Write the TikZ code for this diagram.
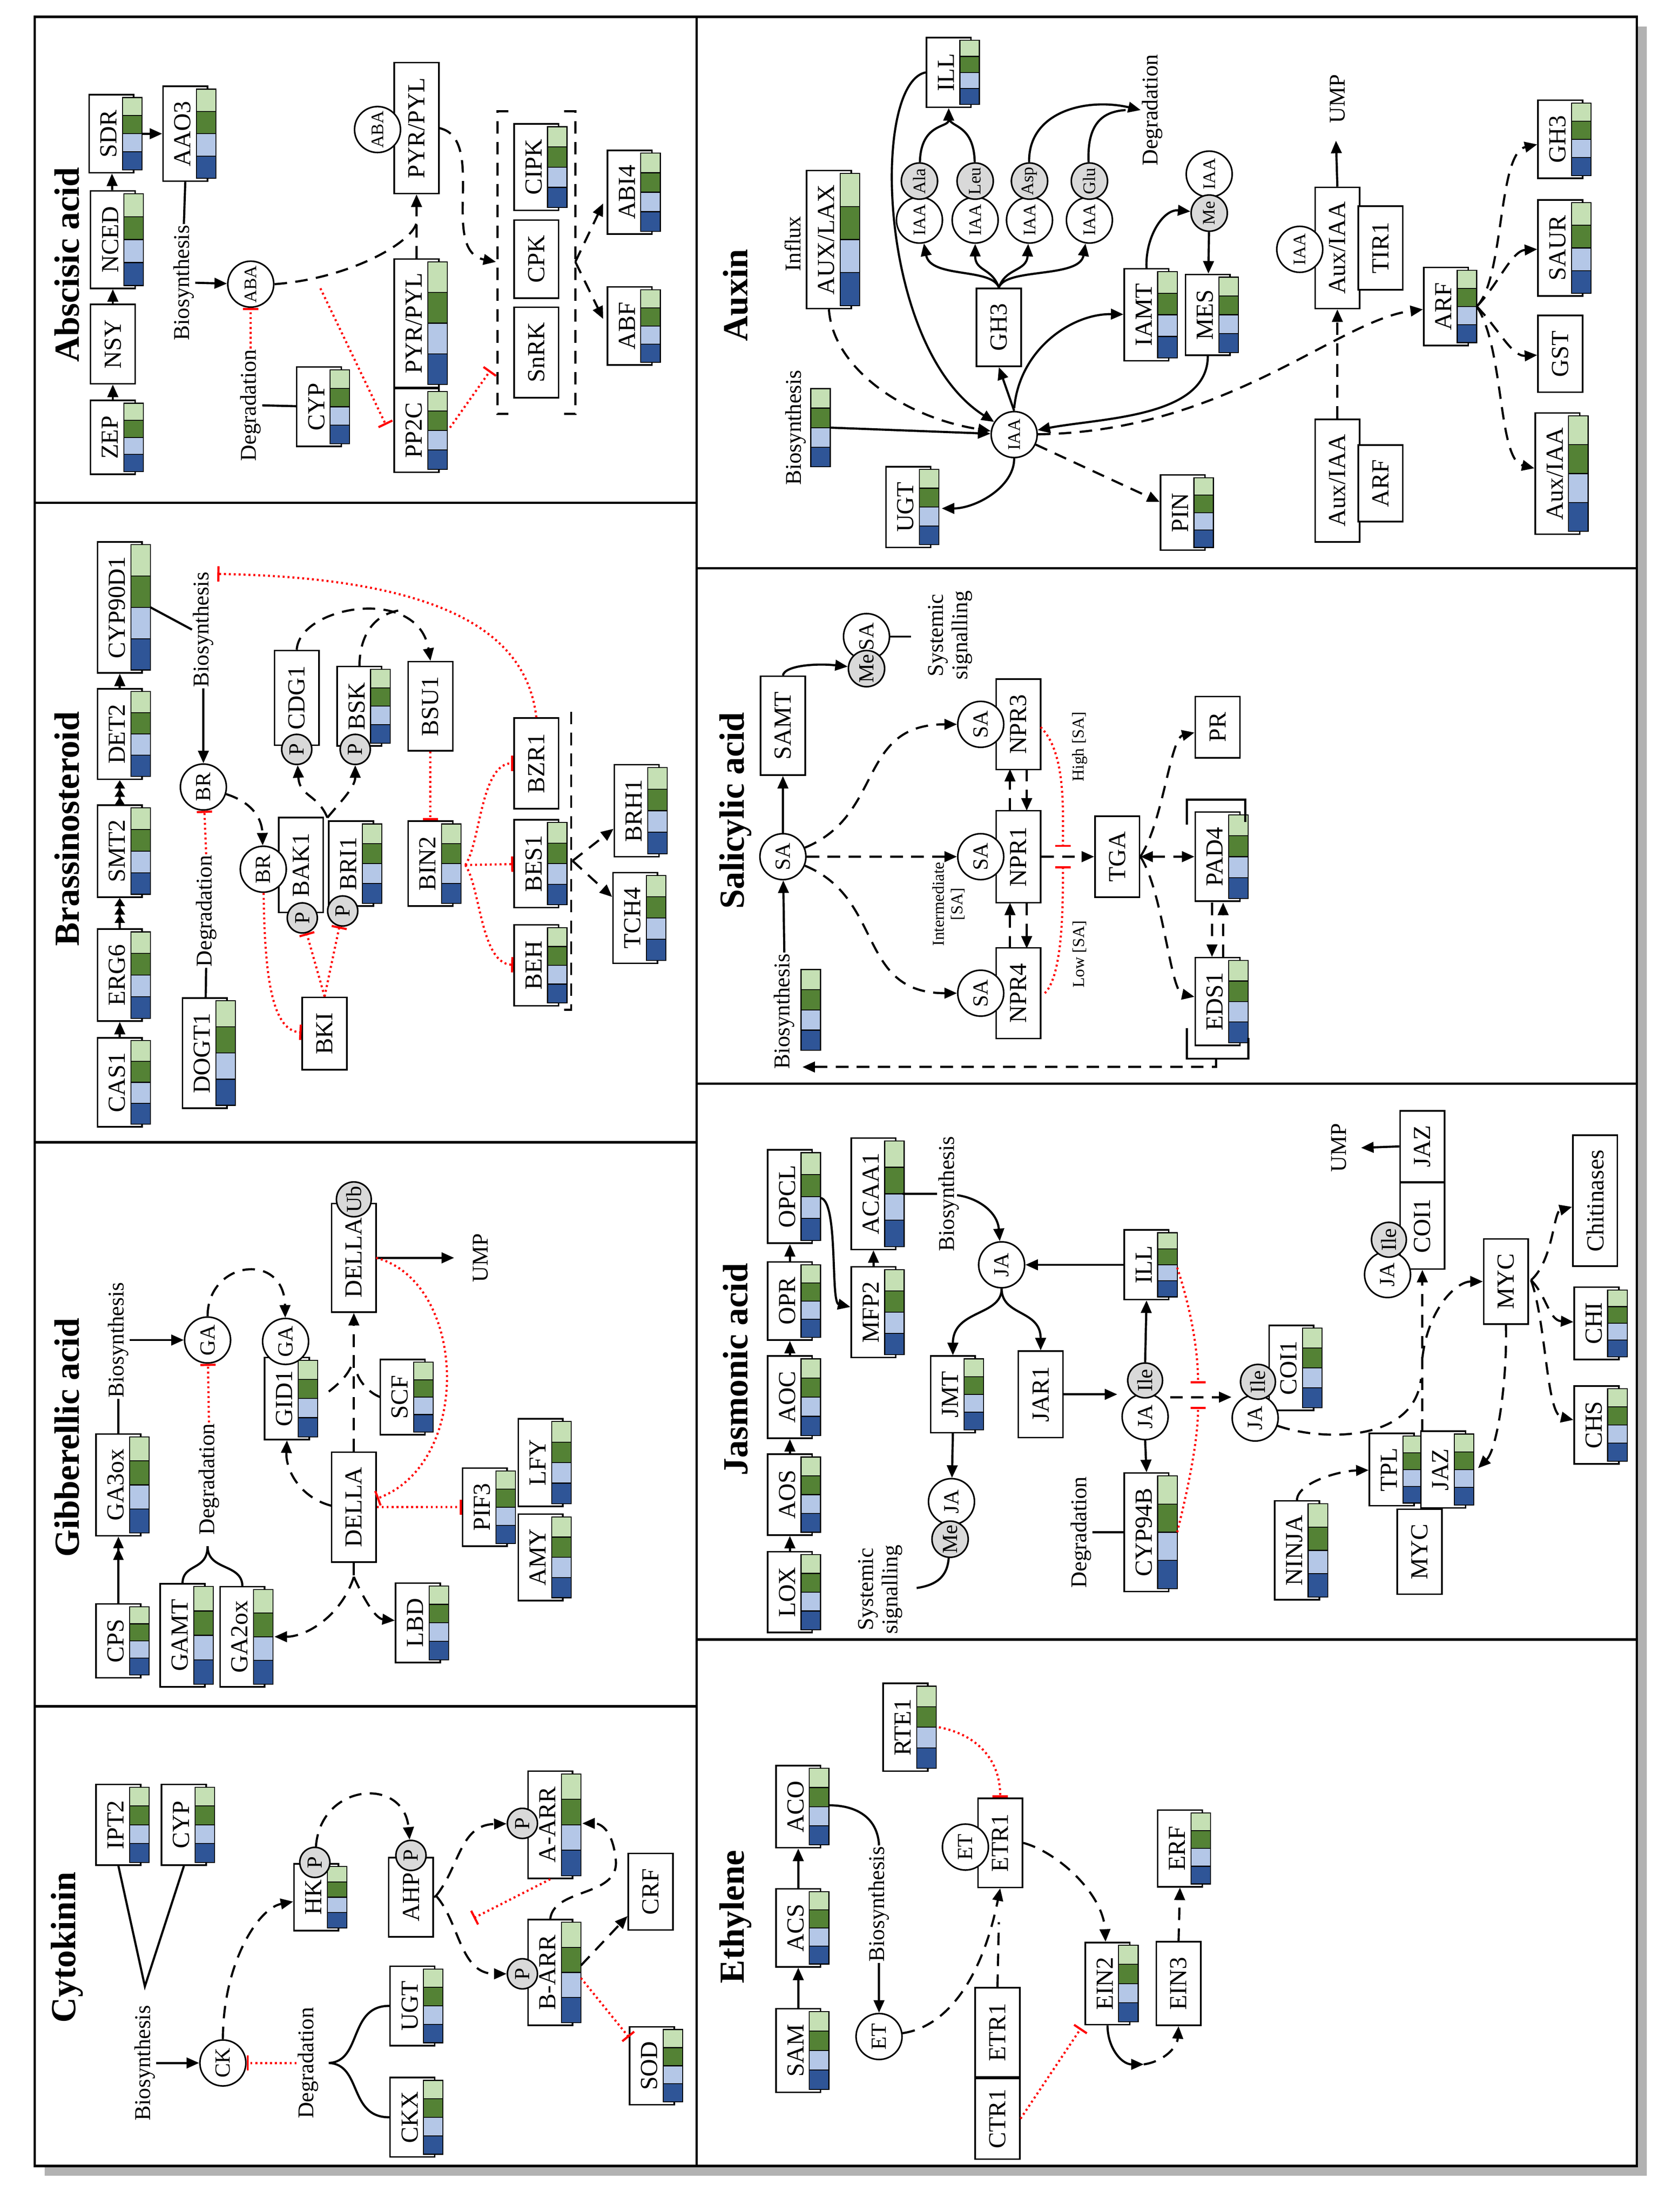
\documentclass[tikz,border=0pt]{standalone}
\usepackage{fontspec}
\setmainfont{Liberation Serif}
\usetikzlibrary{arrows.meta,shapes.geometric}
\definecolor{lg}{HTML}{C5E0B4}
\definecolor{dg}{HTML}{548235}
\definecolor{lb}{HTML}{B4C7E7}
\definecolor{db}{HTML}{2F5597}
\newcommand\Fgene{\fontsize{25}{27}\selectfont}
\newcommand\Flab{\fontsize{23}{25}\selectfont}
\newcommand\Ftitle{\fontsize{36}{38}\selectfont\bfseries}
\newcommand\Fsmall{\fontsize{17}{19}\selectfont}
\newcommand\Fcirc{\fontsize{22}{24}\selectfont}
\newcommand\Fcs{\fontsize{18}{20}\selectfont}
\tikzset{
 box/.style={draw, line width=1.6pt, fill=white, rotate=90, inner sep=0pt, minimum height=1.6cm, font=\Fgene},
 cir/.style={draw, circle, line width=1.6pt, fill=white, rotate=90, inner sep=0pt, minimum size=1.65cm, font=\Fcirc},
 pc/.style={cir, fill=gray!30, minimum size=1.08cm},
 lab/.style={rotate=90, font=\Flab, inner sep=1pt},
 ttl/.style={rotate=90, font=\Ftitle},
 ln/.style={line width=2.2pt},
 ar/.style={line width=2.2pt, -{Triangle[length=0.45cm,width=0.38cm]}},
 ar2/.style={line width=2.2pt, -{Triangle[length=0.42cm,width=0.36cm] Triangle[length=0.42cm,width=0.36cm]}},
 ar3/.style={line width=2.2pt, -{Triangle[length=0.3cm,width=0.36cm] Triangle[length=0.3cm,width=0.36cm] Triangle[length=0.3cm,width=0.36cm]}},
 dl/.style={line width=2.2pt, dash pattern=on 0.45cm off 0.3cm},
 da/.style={ar, dash pattern=on 0.45cm off 0.3cm},
 dd/.style={da, {Triangle[length=0.45cm,width=0.38cm]}-{Triangle[length=0.45cm,width=0.38cm]}},
 inh/.style={red, line width=2.2pt, dash pattern=on 2pt off 3pt, -{Bar[width=0.55cm]}},
}
\newcommand\hmap[3]{\foreach \k/\cc in {0/lg,1/dg,2/lb,3/db}{\filldraw[fill=\cc, draw=black, line width=1pt] ({#1+24},{#2-#3/2+2+\k*(#3-4)/4}) rectangle ({#1+38},{#2-#3/2+2+(\k+1)*(#3-4)/4});}}
\newcommand\gene[5]{\node[box, minimum width={#4*0.05cm}] (#1) at ({#2+16},#3) {\raisebox{0.2cm}{#5}};\hmap{#2}{#3}{#4}}
\newcommand\pbox[5]{\node[box, minimum width={#4*0.05cm}] (#1) at (#2,#3) {#5};}
\begin{document}
\begin{tikzpicture}[x=0.05cm,y=-0.05cm]
\useasboundingbox (0,0) rectangle (1200,1588);
\fill[white] (0,0) rectangle (1200,1588);
\fill[gray!60] (32,19) rectangle (1182,1562);
\draw[line width=2.5pt, fill=white] (25,12) rectangle (1175,1555);
\draw[line width=2.5pt] (500,12) -- (500,1555) (25,361) -- (500,361) (25,820) -- (500,820) (25,1225) -- (500,1225)
 (500,408) -- (1175,408) (500,778) -- (1175,778) (500,1177) -- (1175,1177);

% ================= Abscisic acid
\node[ttl] at (48,190) {Abscisic acid};
\gene{zep}{65}{314}{53}{ZEP}
\pbox{nsy}{81}{247}{57}{NSY}
\gene{nced}{65}{172}{70}{NCED}
\gene{sdr}{64}{96}{56}{SDR}
\gene{aao3}{117}{96}{68}{AAO3}
\draw[ar] (zep) -- (nsy);
\draw[ar] (nsy) -- (nced);
\draw[ar] (nced) -- (sdr);
\draw[ar] (102,96) -- (aao3);
\node[lab] (bio1) at (132,203) {Biosynthesis};
\draw[ln] (aao3.west) -- (bio1.east);
\node[cir,font=\Fcs] (aba) at (180,204) {ABA};
\draw[ar] (bio1.south) -- (aba);
\node[lab] (deg1) at (180,291) {Degradation};
\draw[inh] (deg1.east) -- (aba);
\gene{cyp1}{213}{292}{57}{CYP}
\draw[ln] (deg1.south) -- (cyp1);
\gene{pyr2}{283}{232}{92}{PYR/PYL}
\gene{pp2c}{283}{309}{60}{PP2C}
\draw[inh] (230,207) -- (277,305);
\pbox{pyr1}{299}{92}{94}{PYR/PYL}
\node[cir,font=\Fcs] (aba2) at (271,93) {ABA};
\draw[da] (pyr2.east) -- (pyr1.west);
\draw[dl] (aba.south) .. controls (250,200) and (295,175) .. (299,160);
\draw[da] (pyr1.south) .. controls (350,100) and (315,180) .. (356,188);
\draw[dl] (365,80) -- (357,80) -- (357,297) -- (365,297);
\draw[dl] (405,80) -- (413,80) -- (413,297) -- (405,297);
\gene{cipk}{369}{120}{62}{CIPK}
\pbox{cpk}{385}{186}{56}{CPK}
\pbox{snrk}{385}{253}{65}{SnRK}
\draw[inh] (323,307) -- (352,266);
\gene{abi4}{436}{138}{60}{ABI4}
\gene{abf}{436}{234}{56}{ABF}
\coordinate (j1) at (413,188);
\draw[da] (j1) -- (433,146);
\draw[da] (j1) -- (433,229);

% ================= Brassinosteroid
\node[ttl] at (48,595) {Brassinosteroid};
\gene{cas1}{70}{777}{64}{CAS1}
\gene{erg6}{70}{700}{66}{ERG6}
\gene{smt2}{70}{611}{66}{SMT2}
\gene{det2}{70}{527}{65}{DET2}
\gene{cyp90}{70}{436}{94}{CYP90D1}
\draw[ar] (cas1) -- (erg6);
\draw[ar3] (erg6) -- (smt2);
\draw[ar3] (smt2) -- (det2);
\draw[ar] (det2) -- (cyp90);
\node[lab] (bio2) at (146,452) {Biosynthesis};
\draw[ln] (108,436) -- (bio2.north);
\node[cir] (br1) at (146,565) {BR};
\draw[ar] (bio2.west) -- (br1);
\node[lab] (deg2) at (148,654) {Degradation};
\draw[inh] (deg2.east) -- (br1);
\gene{dogt}{131}{756}{79}{DOGT1}
\draw[ln] (deg2.west) -- (dogt);
\pbox{bak1}{216}{621}{68}{BAK1}
\node[cir] (br2) at (189,624) {BR};
\node[pc] (pbak) at (217,659) {P};
\gene{bri1}{236}{620}{61}{BRI1}
\node[pc] (pbri) at (246,654) {P};
\draw[da] (br1) .. controls (178,575) and (188,585) .. (br2);
\pbox{cdg1}{213}{501}{68}{CDG1}
\node[pc] (pcdg) at (213,538) {P};
\gene{bsk}{242}{507}{57}{BSK}
\node[pc] (pbsk) at (255,538) {P};
\coordinate (j2) at (235,587);
\draw[da] (j2) .. controls (228,570) and (215,572) .. (pcdg);
\draw[da] (j2) .. controls (245,575) and (255,565) .. (pbsk);
\pbox{bsu1}{309}{507}{64}{BSU1}
\draw[da] (cdg1.east) .. controls (215,435) and (300,420) .. (bsu1.east);
\draw[dl] (258,479) .. controls (258,452) and (272,440) .. (288,438);
\gene{bin2}{293}{620}{61}{BIN2}
\draw[inh] (bsu1) -- (bin2);
\pbox{bzr1}{385}{548}{65}{BZR1}
\gene{bes1}{369}{620}{63}{BES1}
\gene{beh}{369}{693}{58}{BEH}
\coordinate (j3) at (334,621);
\draw[inh] (j3) .. controls (345,605) and (345,548) .. (bzr1);
\draw[inh] (j3) -- (bes1);
\draw[inh] (j3) .. controls (345,637) and (345,692) .. (beh);
\draw[inh] (bzr1.east) .. controls (378,455) and (320,415) .. (156,412);
\draw[dl] (410,511) -- (410,725) -- (403,725);
\gene{brh1}{441}{582}{66}{BRH1}
\gene{tch4}{440}{659}{65}{TCH4}
\draw[da] (411,618) -- (brh1);
\draw[da] (411,618) -- (tch4);
\pbox{bki}{233}{742}{52}{BKI}
\draw[inh] (bki.east) -- (pbak);
\draw[inh] (bki.east) -- (pbri);
\draw[inh] (br2) .. controls (190,700) and (195,740) .. (bki);

% ================= Gibberellic acid
\node[ttl] at (48,1032) {Gibberellic acid};
\gene{cps}{69}{1178}{53}{CPS}
\gene{ga3ox}{69}{1066}{73}{GA3ox}
\draw[ar2] (cps) -- (ga3ox);
\node[lab] (bio3) at (85,962) {Biosynthesis};
\draw[ln] (ga3ox.east) -- (bio3.west);
\node[cir] (ga1) at (149,962) {GA};
\draw[ar] (bio3.south) -- (ga1);
\node[lab] (deg3) at (150,1062) {Degradation};
\draw[inh] (deg3.east) -- (ga1);
\gene{gamt}{115}{1174}{74}{GAMT}
\gene{ga2ox}{158}{1175}{72}{GA2ox}
\draw[ln] (131,1137) .. controls (131,1122) and (149,1128) .. (149,1110);
\draw[ln] (174,1139) .. controls (174,1122) and (149,1128) .. (149,1110);
\gene{gid1}{190}{1004}{59}{GID1}
\node[cir] (ga2) at (205,963) {GA};
\draw[da] (ga1.east) .. controls (149,905) and (204,898) .. (ga2);
\pbox{della1}{254}{903}{78}{DELLA}
\node[pc, minimum size=1.25cm] (ub) at (254,861) {Ub};
\draw[ar] (della1.south) -- (326,903);
\node[lab] at (345,903) {UMP};
\pbox{della2}{254}{1082}{79}{DELLA}
\draw[da] (della2.east) -- (della1.west);
\gene{scf}{273}{1003}{54}{SCF}
\draw[dl] (236,999) .. controls (245,992) and (252,985) .. (254,975);
\draw[dl] (273,1003) .. controls (265,1000) and (258,992) .. (256,985);
\draw[da] (238,1081) .. controls (215,1075) and (205,1055) .. (gid1.west);
\draw[inh] (270,903) .. controls (335,920) and (340,1050) .. (della2);
\gene{pif3}{332}{1082}{56}{PIF3}
\draw[inh] (della2) -- (pif3);
\gene{lfy}{372}{1050}{63}{LFY}
\gene{amy}{372}{1118}{62}{AMY}
\gene{lbd}{284}{1165}{57}{LBD}
\coordinate (j4) at (254,1132);
\draw[dl] (della2.west) -- (j4);
\draw[da] (j4) .. controls (245,1160) and (220,1175) .. (197,1175);
\draw[da] (j4) .. controls (262,1150) and (270,1162) .. (lbd);

% ================= Cytokinin
\node[ttl] at (48,1398) {Cytokinin};
\gene{ipt2}{69}{1310}{58}{IPT2}
\gene{cyp2}{116}{1310}{58}{CYP}
\coordinate (v) at (104,1426);
\draw[ln] (ipt2.west) -- (v) -- (cyp2.west);
\node[lab] (bio4) at (104,1481) {Biosynthesis};
\node[cir] (ck) at (160,1481) {CK};
\draw[ar] (bio4.south) -- (ck);
\node[lab] (deg4) at (221,1481) {Degradation};
\draw[inh] (deg4.north) -- (ck);
\gene{ugt1}{280}{1440}{57}{UGT}
\gene{ckx}{280}{1520}{57}{CKX}
\draw[ln] (ugt1.north) .. controls (250,1440) and (260,1480) .. (236,1481) .. controls (260,1482) and (250,1520) .. (ckx.north);
\gene{hk}{211}{1362}{48}{HK}
\node[pc] (phk) at (226,1337) {P};
\draw[da] (ck.east) .. controls (160,1410) and (185,1370) .. (hk);
\pbox{ahp}{295}{1362}{57}{AHP}
\node[pc] (pahp) at (295,1332) {P};
\draw[da] (phk) .. controls (230,1280) and (290,1275) .. (pahp);
\gene{aarr}{379}{1310}{77}{A-ARR}
\node[pc] (paa) at (375,1309) {P};
\gene{barr}{379}{1416}{76}{B-ARR}
\node[pc] (pba) at (375,1417) {P};
\coordinate (j5) at (313,1361);
\draw[dl] (ahp.south) -- (j5);
\draw[da] (j5) .. controls (330,1340) and (330,1310) .. (paa);
\draw[da] (j5) .. controls (330,1380) and (330,1417) .. (pba);
\draw[inh] (aarr.west) -- (340,1377);
\draw[da] (barr.east) .. controls (398,1355) and (445,1362) .. (442,1335) .. controls (440,1315) and (432,1309) .. (418,1309);
\pbox{crf}{467}{1358}{55}{CRF}
\draw[da] (417,1411) -- (crf);
\gene{sod}{452}{1483}{56}{SOD}
\draw[inh] (417,1420) -- (sod);

% ================= Auxin
\node[ttl] at (528,212) {Auxin};
\gene{auxlax}{579}{172}{99}{AUX/LAX}
\node[lab] at (569,175) {Influx};
\node[cir,font=\Fcs] (iaa) at (728,312) {IAA};
\draw[da] (auxlax.west) .. controls (598,265) and (650,300) .. (iaa);
\node[lab] at (571,307) {Biosynthesis};
\hmap{558}{307}{60}
\draw[ar] (596,307) -- (iaa);
\gene{ugt2}{636}{364}{58}{UGT}
\draw[ar] (iaa.west) .. controls (728,350) and (700,365) .. (676,365);
\gene{pin}{833}{368}{54}{PIN}
\draw[da] (iaa) -- (pin);
\pbox{gh3a}{717}{235}{56}{GH3}
\draw[ar] (iaa.east) -- (gh3a.west);
\gene{iamt}{807}{226}{66}{IAMT}
\gene{mes}{851}{226}{58}{MES}
\draw[ar] (728,293) .. controls (732,250) and (770,225) .. (iamt);
\foreach \xx/\aa/\nn in {660/Ala/1,700/Leu/2,739/Asp/3,782/Glu/4}{
 \node[cir,font=\Fcs] (c\nn) at (\xx,158) {IAA};
 \node[pc,minimum size=1.3cm,font=\Fcs] (a\nn) at (\xx,130) {\aa};}
\draw[ar] (gh3a.east) .. controls (712,192) and (668,200) .. (c1);
\draw[ar] (gh3a.east) .. controls (712,192) and (700,195) .. (c2);
\draw[ar] (gh3a.east) .. controls (722,192) and (737,195) .. (c3);
\draw[ar] (gh3a.east) .. controls (722,192) and (775,200) .. (c4);
\gene{ill}{665}{52}{50}{ILL}
\draw[ar] (a1) .. controls (661,88) and (681,92) .. (ill.west);
\draw[ln] (a2) .. controls (699,88) and (681,92) .. (681,84);
\node[lab] (deg5) at (827,79) {Degradation};
\draw[ar] (a3) .. controls (738,80) and (780,70) .. (deg5.north);
\draw[ln] (a4) .. controls (780,85) and (795,80) .. (808,79);
\draw[ar] (ill.north) .. controls (625,60) and (630,250) .. (iaa);
\node[cir,font=\Fcs] (meiaa) at (868,125) {IAA};
\node[pc,minimum size=1.3cm,font=\Fcs] (me) at (868,153) {Me};
\draw[ar] (iamt.east) .. controls (822,170) and (835,150) .. (me);
\draw[ar] (me) -- (mes);
\draw[ar] (mes.west) .. controls (867,300) and (790,300) .. (iaa);
\pbox{auxiaa1}{960}{178}{87}{Aux/IAA}
\pbox{tir1}{991}{178}{60}{TIR1}
\node[cir,font=\Fcs] (iaa3) at (933,179) {IAA};
\draw[ar] (auxiaa1.east) -- (959,101);
\node[lab] at (960,71) {UMP};
\pbox{auxiaa2}{960}{345}{88}{Aux/IAA}
\pbox{arf1}{991}{347}{55}{ARF}
\draw[da] (auxiaa2.east) -- (auxiaa1.west);
\gene{arf2}{1022}{220}{56}{ARF}
\draw[da] (iaa) .. controls (880,310) and (960,230) .. (arf2);
\gene{gh3b}{1104}{100}{56}{GH3}
\gene{saur}{1104}{178}{69}{SAUR}
\pbox{gst}{1120}{254}{55}{GST}
\gene{auxiaa3}{1102}{340}{87}{Aux/IAA}
\coordinate (j6) at (1060,220);
\draw[da] (j6) .. controls (1080,200) and (1075,110) .. (gh3b);
\draw[da] (j6) .. controls (1075,205) and (1085,180) .. (saur);
\draw[da] (j6) .. controls (1075,235) and (1085,256) .. (gst);
\draw[da] (j6) .. controls (1080,250) and (1075,330) .. (auxiaa3);

% ================= Salicylic acid
\node[ttl] at (528,582) {Salicylic acid};
\pbox{samt}{562}{521}{71}{SAMT}
\node[cir] (sa0) at (562,615) {SA};
\draw[ar] (sa0) -- (samt);
\node[lab] (bio6) at (563,726) {Biosynthesis};
\hmap{551}{725}{62}
\draw[ar] (bio6.east) -- (sa0);
\node[cir] (sam) at (622,457) {SA};
\node[pc,minimum size=1.3cm] (me2) at (622,480) {Me};
\draw[ar] (samt.east) .. controls (563,478) and (585,476) .. (me2);
\draw[ln] (sam.south) -- (654,457);
\node[lab, align=center] at (682,456) {Systemic\\signalling};
\pbox{npr3}{731}{520}{65}{NPR3}
\node[cir] (sa3) at (704,520) {SA};
\pbox{npr1}{731}{615}{66}{NPR1}
\node[cir] (sa1) at (704,615) {SA};
\pbox{npr4}{731}{713}{65}{NPR4}
\node[cir] (sa4) at (704,713) {SA};
\draw[da] (sa0) .. controls (635,585) and (615,520) .. (sa3);
\draw[da] (sa0) -- (sa1);
\draw[da] (sa0) .. controls (635,645) and (615,713) .. (sa4);
\node[font=\Fsmall, rotate=90, align=center] at (681,649) {Intermediate\\{}[SA]};
\draw[da] (725,582) -- (725,552);
\draw[da] (737,552) -- (737,582);
\draw[da] (725,681) -- (725,648);
\draw[da] (737,648) -- (737,681);
\pbox{tga}{802}{615}{58}{TGA}
\draw[da] (npr1) -- (tga);
\draw[inh] (747,522) .. controls (765,540) and (763,580) .. (763,608);
\draw[inh] (750,713) .. controls (763,700) and (763,650) .. (763,622);
\node[font=\Fsmall, rotate=90] at (775,536) {High [SA]};
\node[font=\Fsmall, rotate=90] at (775,685) {Low [SA]};
\pbox{pr}{874}{522}{44}{PR}
\gene{pad4}{858}{615}{64}{PAD4}
\gene{eds1}{858}{719}{63}{EDS1}
\draw[da] (tga.south) .. controls (835,590) and (840,530) .. (pr);
\draw[dd] (tga) -- (pad4);
\draw[da] (tga.south) .. controls (835,640) and (840,712) .. (eds1);
\draw[ln] (852,592) -- (852,574) -- (894,574) -- (894,590);
\draw[ln] (852,738) -- (852,760) -- (896,760) -- (896,745);
\draw[da] (870,648) -- (870,687);
\draw[da] (878,687) -- (878,648);
\draw[da] (873,760) -- (873,766) -- (576,766);

% ================= Jasmonic acid
\node[ttl] at (528,983) {Jasmonic acid};
\gene{lox}{551}{1143}{58}{LOX}
\gene{aos}{551}{1073}{58}{AOS}
\gene{aoc}{551}{1003}{59}{AOC}
\gene{opr}{551}{934}{56}{OPR}
\gene{opcl}{551}{859}{67}{OPCL}
\draw[ar] (lox) -- (aos);
\draw[ar] (aos) -- (aoc);
\draw[ar] (aoc) -- (opr);
\draw[ar] (opr) -- (opcl);
\gene{mfp2}{611}{942}{65}{MFP2}
\gene{acaa1}{611}{857}{80}{ACAA1}
\draw[ar] (mfp2) -- (acaa1);
\draw[ar] (589,860) .. controls (602,862) and (596,935) .. (mfp2);
\node[lab] (bio7) at (681,857) {Biosynthesis};
\draw[ln] (648,857) -- (bio7.north);
\node[cir] (ja1) at (719,908) {JA};
\draw[ar] (687,858) .. controls (702,860) and (716,870) .. (ja1);
\gene{ill2}{807}{908}{50}{ILL}
\draw[ar] (ill2) -- (ja1);
\gene{jmt}{668}{1001}{55}{JMT}
\pbox{jar1}{747}{1001}{62}{JAR1}
\draw[ar] (ja1.west) .. controls (719,945) and (684,940) .. (jmt);
\draw[ar] (ja1.west) .. controls (719,945) and (747,940) .. (jar1);
\node[cir] (meja) at (683,1078) {JA};
\node[pc,minimum size=1.3cm] (me3) at (682,1105) {Me};
\draw[ar] (jmt.west) -- (meja);
\node[lab, align=center] at (632,1141) {Systemic\\signalling};
\draw[ln] (658,1140) .. controls (672,1138) and (680,1132) .. (me3);
\node[cir] (jaile1) at (822,1017) {JA};
\node[pc,minimum size=1.25cm] (ile1) at (822,991) {Ile};
\draw[ar] (jar1.south) -- (802,1001);
\draw[ar] (ile1.east) -- (ill2.west);
\node[lab] (deg7) at (776,1100) {Degradation};
\gene{cyp94}{807}{1100}{85}{CYP94B}
\draw[ar] (jaile1.west) -- (cyp94.east);
\draw[ln] (deg7.south) -- (cyp94);
\gene{coi1a}{911}{982}{61}{COI1}
\node[cir] (jaile2) at (901,1018) {JA};
\node[pc,minimum size=1.25cm] (ile2) at (903,992) {Ile};
\draw[da] (840,1003) -- (884,1003);
\draw[inh] (845,910) .. controls (855,940) and (860,970) .. (860,993);
\draw[inh] (845,1100) .. controls (855,1060) and (860,1030) .. (860,1010);
\pbox{coi1b}{1021}{880}{62}{COI1}
\pbox{jaz1}{1021}{823}{51}{JAZ}
\node[cir] (jaile3) at (996,915) {JA};
\node[pc,minimum size=1.25cm] (ile3) at (997,890) {Ile};
\draw[ar] (jaz1.north) -- (977,824);
\node[lab] at (961,824) {UMP};
\pbox{myc1}{1081}{920}{61}{MYC}
\gene{tpl}{983}{1055}{52}{TPL}
\gene{jaz2}{1020}{1055}{55}{JAZ}
\pbox{myc2}{1019}{1114}{61}{MYC}
\draw[dl] (jaile2) .. controls (950,1035) and (1015,1035) .. (1020,990);
\draw[da] (1021,1028) -- (coi1b.west);
\draw[da] (1021,975) .. controls (1025,940) and (1045,920) .. (myc1);
\pbox{chit}{1145}{862}{94}{Chitinases}
\gene{chi}{1130}{950}{52}{CHI}
\gene{chs}{1130}{1023}{56}{CHS}
\coordinate (j7) at (1099,919);
\draw[da] (j7) .. controls (1115,905) and (1115,870) .. (chit);
\draw[da] (j7) .. controls (1110,930) and (1112,948) .. (chi);
\draw[da] (j7) .. controls (1110,950) and (1110,1015) .. (chs);
\draw[da] (myc1.west) .. controls (1082,990) and (1075,1040) .. (1061,1054);
\gene{ninja}{915}{1113}{71}{NINJA}
\draw[da] (ninja.east) .. controls (931,1065) and (960,1056) .. (tpl);

% ================= Ethylene
\node[ttl] at (528,1376) {Ethylene};
\gene{sam2}{557}{1472}{60}{SAM}
\gene{acs}{557}{1384}{56}{ACS}
\gene{aco}{557}{1297}{59}{ACO}
\draw[ar] (sam2) -- (acs);
\draw[ar] (acs) -- (aco);
\node[lab] (bio8) at (631,1367) {Biosynthesis};
\draw[ln] (595,1296) .. controls (615,1296) and (630,1305) .. (bio8.east);
\node[cir] (et1) at (631,1462) {ET};
\draw[ar] (bio8.west) -- (et1);
\pbox{etr1a}{718}{1323}{64}{ETR1}
\node[cir] (et2) at (693,1326) {ET};
\draw[da] (et1) .. controls (680,1455) and (705,1420) .. (etr1a.west);
\pbox{etr1b}{716}{1459}{64}{ETR1}
\pbox{ctr1}{716}{1521}{58}{CTR1}
\draw[dl] (etr1b.east) -- (717,1380);
\gene{rte1}{634}{1240}{63}{RTE1}
\draw[inh] (674,1240) .. controls (700,1245) and (718,1262) .. (etr1a);
\gene{ein2}{779}{1424}{59}{EIN2}
\draw[da] (etr1a.south) .. controls (760,1330) and (792,1360) .. (ein2);
\draw[inh] (ctr1.south) -- (776,1456);
\pbox{ein3}{846}{1424}{60}{EIN3}
\draw[ar] (ein2.west) .. controls (795,1470) and (805,1482) .. (821,1482);
\draw[da] (821,1482) .. controls (835,1480) and (845,1470) .. (ein3.west);
\gene{erf}{831}{1327}{55}{ERF}
\draw[da] (ein3.east) -- (erf.west);
\end{tikzpicture}
\end{document}
